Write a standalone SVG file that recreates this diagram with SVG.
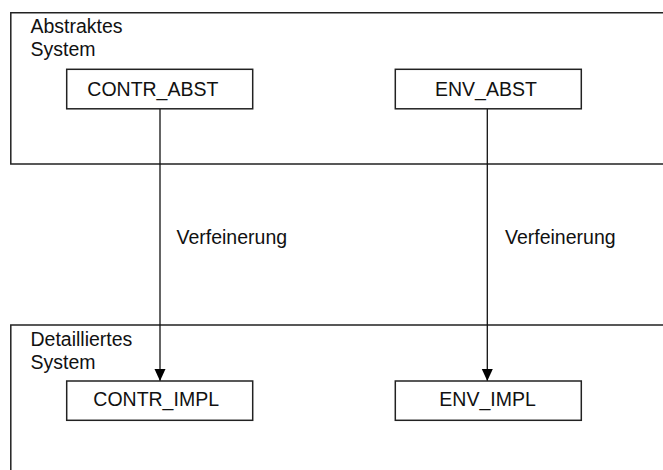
<svg xmlns="http://www.w3.org/2000/svg" width="663" height="470" viewBox="0 0 663 470">
<defs>
<style>
.frame{fill:none;stroke:#222;stroke-width:1.5}
.box{fill:#fff;stroke:#222;stroke-width:1.5}
.t{font-family:"Liberation Sans",Arial,sans-serif;font-size:19.5px;fill:#111}
.conn{stroke:#111;stroke-width:1.3;fill:none}
</style>
<marker id="arr" viewBox="0 0 12 12" refX="12" refY="6" markerWidth="12" markerHeight="12" markerUnits="userSpaceOnUse" orient="auto">
<path d="M0,0.5 L12,6 L0,11.5 Z" fill="#000"/>
</marker>
</defs>
<rect width="663" height="470" fill="#fff"/>
<g id="abstraktes-system">
<path class="frame" d="M663,12.7 H10.8 V164 H663"/>
<text class="t" x="30.5" y="33">Abstraktes</text>
<text class="t" x="30.5" y="56">System</text>
</g>
<g id="detailliertes-system">
<path class="frame" d="M663,325 H10.8 V471"/>
<text class="t" x="30.5" y="345.5">Detailliertes</text>
<text class="t" x="30.5" y="368.5">System</text>
</g>
<g id="connectors">
<line class="conn" x1="160" y1="109" x2="160" y2="381" marker-end="url(#arr)"/>
<line class="conn" x1="487.3" y1="109" x2="487.3" y2="381" marker-end="url(#arr)"/>
<text class="t" x="176.5" y="244">Verfeinerung</text>
<text class="t" x="505" y="244">Verfeinerung</text>
</g>
<g id="contr-abst">
<rect class="box" x="66.7" y="69.3" width="186" height="39.5"/>
<text class="t" x="87.3" y="95.5">CONTR_ABST</text>
</g>
<g id="env-abst">
<rect class="box" x="395.3" y="69.3" width="186" height="39.5"/>
<text class="t" x="435" y="96">ENV_ABST</text>
</g>
<g id="contr-impl">
<rect class="box" x="66.7" y="381" width="186" height="39.3"/>
<text class="t" x="93.3" y="405.8">CONTR_IMPL</text>
</g>
<g id="env-impl">
<rect class="box" x="395.3" y="381" width="186" height="39.3"/>
<text class="t" x="439.3" y="406">ENV_IMPL</text>
</g>
</svg>
